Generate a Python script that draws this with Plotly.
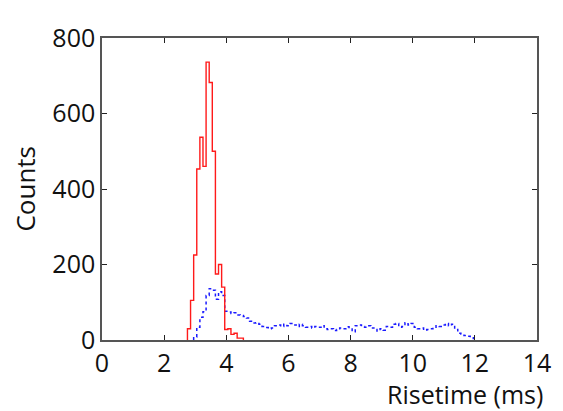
import plotly.graph_objects as go

# Red histogram (bin width 0.1 ms), counts per bin, first bin left edge
red_start = 2.75
red_width = 0.1
red_counts = [30, 105, 225, 453, 537, 460, 736, 682, 500, 175, 200, 140,
              28, 30, 15, 18, 5, 5]

# Blue histogram (bin width 0.1 ms)
blue_start = 2.95
blue_width = 0.1
blue_counts = [8, 34, 60, 75, 118, 136, 132, 108, 128, 118,
               76, 74, 70, 72, 66, 65, 62, 58, 50, 45,
               46, 42, 36, 33, 30, 32, 38, 40, 36, 42,
               38, 44, 40, 36, 42, 38, 34, 36, 32, 36,
               34, 38, 30, 28, 30, 25, 28, 32, 30, 35,
               33, 22, 38, 40, 36, 34, 38, 32, 28, 24,
               30, 26, 36, 34, 42, 44, 34, 36, 46, 40,
               44, 34, 30, 32, 26, 28, 30, 34, 38, 36,
               40, 44, 38, 42, 28, 18, 16, 12, 10, 6, 4]

x_ticks = [0, 2, 4, 6, 8, 10, 12, 14]
y_ticks = [0, 200, 400, 600, 800]


def step_xy(start, width, counts):
    edges = [round(start + i * width, 4) for i in range(len(counts) + 1)]
    xs = [edges[0]] + edges[:-1] + [edges[-1]]
    ys = [0] + list(counts) + [0]
    return xs, ys


rx, ry = step_xy(red_start, red_width, red_counts)
bx, by = step_xy(blue_start, blue_width, blue_counts)

fig = go.Figure()
fig.add_trace(go.Scatter(x=bx, y=by, mode="lines", line_shape="hv",
                         line=dict(color="#1a1aff", width=1.5, dash="dot"),
                         showlegend=False))
fig.add_trace(go.Scatter(x=rx, y=ry, mode="lines", line_shape="hv",
                         line=dict(color="#ff1a1a", width=1.4),
                         showlegend=False))

FONT = "Open Sans"
axis_common = dict(showline=True, linecolor="#555555", linewidth=1.5,
                   mirror="ticks", ticks="inside", ticklen=5,
                   tickcolor="#222222", tickwidth=1.2,
                   showgrid=False, zeroline=False,
                   tickfont=dict(family=FONT, size=25, color="#111111"))

fig.update_xaxes(range=[0, 14], tickvals=x_ticks, **axis_common)
fig.update_yaxes(range=[0, 800], tickvals=y_ticks, **axis_common)

fig.add_annotation(text="Risetime (ms)", xref="paper", yref="paper",
                   x=1.016, y=-0.178, xanchor="right", yanchor="middle",
                   showarrow=False, borderpad=0,
                   font=dict(family=FONT, size=25, color="#111111"))
fig.add_annotation(text="Counts", xref="paper", yref="paper",
                   x=-0.178, y=0.5, xanchor="center", yanchor="middle",
                   textangle=-90, showarrow=False,
                   font=dict(family=FONT, size=26, color="#111111"))

fig.update_layout(width=555, height=403,
                  margin=dict(l=94, r=23, t=19, b=71),
                  paper_bgcolor="white", plot_bgcolor="white")

fig.write_html("out.html")
